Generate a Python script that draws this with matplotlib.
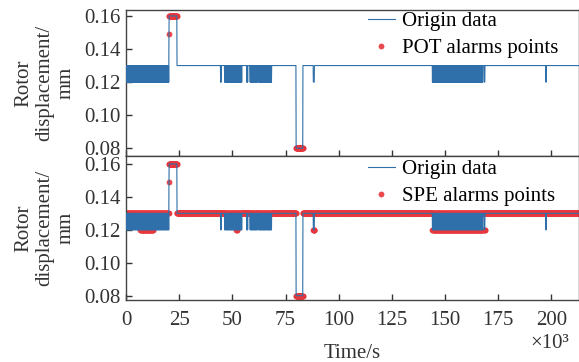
import numpy as np
import matplotlib.pyplot as plt

plt.rcParams["font.family"] = ["Liberation Serif", "DejaVu Serif"]
plt.rcParams["font.size"] = 15

# ============================
# data (time in 10^3 s, displacement in mm)
# ============================
t_end = 213.0
t_step = 0.1
base_level = 0.13
low_level = 0.12

# intervals where the signal flips between 0.12 and 0.13
dense_blocks = [(0.0, 20.1), (44.4, 44.8), (46.3, 54.4), (56.7, 57.2),
                (58.3, 61.8), (62.3, 68.4), (144.0, 167.8)]

# step changes: (start, end, value)
step_changes = [(20.2, 20.2, 0.149), (20.3, 23.9, 0.16),
                (80.0, 83.1, 0.08), (88.1, 88.5, 0.12),
                (168.5, 168.7, 0.12), (197.4, 197.6, 0.12)]

# POT alarm intervals
pot_intervals = [(20.2, 23.9), (80.0, 83.1)]

# SPE: 0.12 samples flagged only inside these intervals
spe_low_intervals = [(6.6, 12.7), (51.8, 52.3), (88.1, 88.5), (144.0, 168.7)]

xticks = [0, 25, 50, 75, 100, 125, 150, 175, 200]
yticks = [0.08, 0.10, 0.12, 0.14, 0.16]

# ============================
# build series
# ============================
t = np.round(np.arange(0, t_end + t_step / 2, t_step), 1)
y = np.full(t.shape, base_level)
for a, b in dense_blocks:
    idx = np.nonzero((t >= a) & (t <= b))[0]
    y[idx[1::2]] = low_level
for a, b, v in step_changes:
    y[(t >= a) & (t <= b)] = v

pot_mask = np.zeros(t.shape, dtype=bool)
for a, b in pot_intervals:
    pot_mask |= (t >= a) & (t <= b)

spe_mask = y != low_level
for a, b in spe_low_intervals:
    spe_mask |= (t >= a) & (t <= b)

# ============================
# plot
# ============================
line_color = "#2f70aa"
dot_color = "#e8363b"
spine_color = "#444444"

fig = plt.figure(figsize=(5.79, 3.62), dpi=100)
ax1 = fig.add_axes([0.2176, 0.5699, 0.7824, 0.4025])
ax2 = fig.add_axes([0.2176, 0.1713, 0.7824, 0.3986])

panels = [
    (ax1, pot_mask, "POT alarms points", (0.0755, 0.1636), 0.988),
    (ax2, spe_mask, "SPE alarms points", (0.0774, 0.165), 0.972),
]

for ax, mask, name, ylim, leg_y in panels:
    ln, = ax.plot(t, y, color=line_color, lw=0.8, zorder=3, label="Origin data")
    sc, = ax.plot(t[mask], y[mask], "o", color=dot_color, ms=4.2,
                  mec="none", alpha=0.9, zorder=2, label=name)
    ax.set_xlim(0, t_end)
    ax.set_ylim(*ylim)
    ax.set_xticks(xticks)
    ax.set_yticks(yticks)
    ax.set_yticklabels([f"{v:.2f}" for v in yticks])
    ax.tick_params(direction="in", length=4, width=1, colors="#333333",
                   labelcolor="#333333", pad=4)
    ax.tick_params(axis="x", pad=8)
    for s in ax.spines.values():
        s.set_color(spine_color)
        s.set_linewidth(1.0)
    ax.set_ylabel("Rotor\ndisplacement/\nmm", color="#333333", linespacing=1.15)
    ax.yaxis.set_label_coords(-0.112, 0.5)
    ax.legend(handles=[ln, sc], loc="upper left", bbox_to_anchor=(0.534, leg_y),
              frameon=False, borderpad=0, borderaxespad=0, handlelength=1.3,
              handletextpad=0.35, labelspacing=0.35, markerscale=1.0)

ax1.tick_params(labelbottom=False)
ax2.set_xlabel("Time/s", color="#333333", labelpad=10)

fig.text(550 / 579, 1 - 343 / 362, "×10³", ha="center", va="center",
         color="#333333", fontsize=15)

plt.savefig("out.png", dpi=100)
plt.close()
